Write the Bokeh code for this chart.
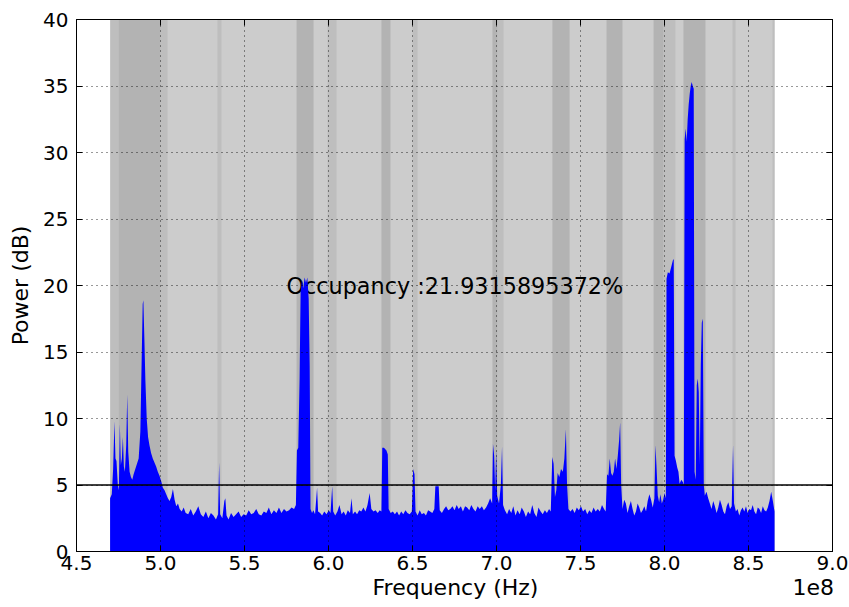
from bokeh.plotting import figure
from bokeh.models import Range1d, FixedTicker, NumeralTickFormatter, Span, LinearAxis, ColumnDataSource
from bokeh.core.properties import value
from bokeh.embed import file_html
from bokeh.resources import INLINE

FONT = "DejaVu Sans"

# ---- spectrum (frequency in MHz, power in dB) ----
freq_mhz = [
    470.0, 471.0, 471.8, 472.6, 473.2, 473.8, 474.6, 475.2, 475.8, 476.4, 477.0, 477.6, 478.2, 478.8,
    479.6, 480.2, 480.8, 481.6, 482.4, 483.2, 484.0, 485.0, 486.0, 487.0, 488.0, 488.8, 489.4, 489.8,
    490.4, 491.0, 491.8, 492.6, 493.4, 494.4, 495.4, 496.4, 497.4, 498.4, 499.4, 500.4, 501.4, 502.4,
    503.4, 504.4, 505.4, 506.4, 507.4, 508.4, 509.4, 510.4, 511.4, 512.6, 513.8, 515.0,
    516.5, 518.0, 519.5, 521.0, 522.5, 524.0, 525.5, 527.0, 528.5, 530.0, 531.5, 533.0, 534.3, 534.9,
    535.5, 536.8, 538.0, 538.6, 539.3, 540.5, 542.0, 543.5, 545.0, 546.5, 548.0, 549.5, 551.0, 552.5,
    554.0, 555.5, 557.0, 558.5, 560.0, 561.5, 563.0, 564.5, 566.0, 567.5, 569.0, 570.5, 572.0, 573.5,
    575.0, 576.5, 578.0, 579.5,
    580.6, 581.2, 582.0, 582.8, 583.4, 584.2, 585.0, 585.8, 586.6, 587.4, 588.2, 588.8, 589.3, 590.2,
    591.0, 592.0, 593.2, 593.8, 595.0,
    596.2, 597.5, 598.8, 600.2, 601.2, 602.2, 602.8, 604.0, 605.3, 606.5, 607.8, 609.0, 610.3, 611.5,
    612.8, 613.7, 614.5, 615.8, 617.0, 618.3, 619.5, 620.8, 622.0, 623.2, 624.5, 625.5, 626.8, 628.0,
    629.3, 630.5, 631.5, 632.0, 633.0, 634.5, 635.3, 635.8, 637.0, 638.3, 639.5,
    640.8, 642.0, 643.3, 644.5, 645.8, 647.0, 648.3, 649.6, 650.4, 651.2, 651.8, 653.0, 654.3, 655.5,
    656.8, 658.0, 659.3, 660.5, 661.8, 663.0, 663.6, 665.6, 666.2, 667.5, 668.8, 670.0, 671.3, 672.5,
    673.8, 675.0, 676.3, 677.5, 678.8, 680.0, 681.3, 682.5, 683.8, 685.0, 686.3, 687.5, 688.8, 690.0,
    691.3, 692.5, 693.8, 695.0, 696.2,
    697.4, 697.9, 698.6, 699.2, 699.8, 700.4, 701.5, 702.6, 703.3, 703.9,
    705.0, 706.3, 707.5, 708.8, 710.0, 711.3, 712.5, 713.8, 715.0, 716.3, 717.5, 718.8, 720.0, 721.3,
    722.5, 723.8, 725.0, 726.3, 727.5, 728.8, 730.0, 731.3, 732.3,
    733.2, 734.0, 734.8, 735.6, 736.4, 737.4, 738.4, 739.5, 740.4, 741.3, 742.0, 742.8,
    744.0, 745.3, 746.5, 747.8, 749.0, 750.3, 751.5, 752.8, 754.0, 755.3, 756.5, 757.8, 759.0, 760.3,
    761.5, 762.8, 764.0, 765.0,
    765.8, 766.6, 767.4, 768.2, 769.0, 769.8, 770.6, 771.4, 772.2, 773.0, 773.6, 774.2, 775.0,
    776.0, 777.0, 778.0, 779.0, 780.0, 781.0, 782.0, 783.0, 784.0, 785.0, 786.0, 787.0, 788.0, 789.0,
    790.0, 791.0, 792.0, 793.0, 794.0,
    794.6, 795.2, 796.0, 796.8, 797.6, 798.4, 799.2, 800.0,
    800.8, 801.2, 802.0, 803.0, 804.0, 805.0, 805.5, 806.0, 806.8, 807.6, 808.3, 809.0, 810.0, 811.0,
    811.5, 812.0, 812.6, 813.2, 813.8, 814.4, 815.0, 815.6, 816.2, 816.8, 817.4, 817.9, 818.6, 819.2,
    819.8, 820.4, 821.0, 821.6, 822.2, 822.8, 823.4, 824.0,
    825.0, 826.0, 827.0, 828.0, 829.0, 830.0, 831.0, 832.0, 833.0, 834.0, 835.0, 836.0, 837.0, 838.0,
    839.0, 840.0, 840.8, 841.4, 842.5, 843.5, 844.5, 845.5, 846.5, 847.5, 848.5, 849.5, 850.5, 851.5,
    852.5, 853.5, 854.5, 855.5, 856.5, 857.5, 858.5, 859.5, 860.5, 861.5, 862.5, 863.5, 864.5, 865.5,
]
power_db = [
    4.0, 4.3, 6.2, 9.8, 7.0, 6.8, 5.0, 4.6, 9.6, 6.5, 7.0, 8.6, 6.4, 6.0,
    8.0, 11.8, 7.5, 6.0, 5.6, 5.4, 5.8, 6.2, 6.6, 7.0, 9.0, 14.5, 18.6, 18.9,
    16.0, 12.9, 10.0, 8.6, 8.0, 7.4, 7.0, 6.7, 6.4, 6.0, 5.7, 5.3, 4.8, 4.6,
    4.3, 4.0, 3.8, 4.1, 4.7, 3.9, 3.4, 3.6, 3.2, 3.0, 3.3, 2.9,
    2.8, 3.2, 2.7, 3.0, 3.4, 2.8, 2.6, 3.0, 2.5, 2.9, 2.7, 2.4, 2.8, 6.7,
    2.8, 2.5, 3.8, 4.0, 2.7, 2.4, 2.9, 2.6, 2.8, 3.0, 2.6, 2.8, 2.7, 3.1,
    2.8, 2.9, 3.2, 2.8, 2.7, 3.0, 2.9, 3.3, 2.8, 3.1, 2.9, 3.3, 2.9, 3.2,
    3.0, 3.1, 3.3, 3.2,
    3.5, 7.6, 7.8, 13.0, 19.5, 20.4, 19.8, 20.6, 20.2, 20.6, 19.0, 14.0, 3.2, 2.9,
    3.1, 2.8, 4.8, 3.0, 2.9,
    2.7, 3.0, 2.8, 3.1, 2.9, 4.9, 3.0, 2.7, 3.0, 3.5, 2.8, 3.0, 2.7, 3.1,
    2.9, 4.0, 2.8, 3.0, 2.8, 3.1, 3.0, 3.3, 3.0, 3.5, 4.4, 3.2, 3.0, 3.1,
    2.9, 3.1, 3.0, 7.8, 7.8, 7.6, 7.3, 3.2, 2.9, 3.0, 2.8,
    3.0, 2.7, 3.0, 2.8, 3.1, 2.9, 2.8, 3.0, 6.2, 5.8, 3.0, 2.7, 3.1, 2.8,
    2.9, 2.7, 3.1, 3.0, 2.9, 3.2, 4.9, 4.9, 3.1, 2.9, 3.2, 3.4, 3.1, 3.2,
    3.4, 3.1, 3.5, 3.2, 3.4, 3.0, 3.4, 3.3, 3.1, 3.5, 3.2, 3.0, 3.4, 3.2,
    3.4, 3.1, 3.3, 3.6, 4.0,
    3.6, 8.1, 7.2, 4.6, 7.6, 4.2, 3.6, 5.0, 7.9, 3.5,
    3.1, 2.8, 3.2, 2.9, 3.4, 2.7, 3.1, 2.8, 3.3, 3.0, 2.6, 3.0, 2.8, 3.5,
    2.9, 2.6, 3.3, 3.0, 2.8, 3.1, 2.9, 3.2, 3.0,
    7.1, 6.6, 4.1, 4.6, 5.9, 5.6, 6.2, 6.0, 7.0, 9.2, 5.0, 3.2,
    3.0, 3.2, 2.9, 3.3, 3.1, 3.4, 3.0, 3.2, 2.8, 3.1, 2.9, 3.3, 3.0, 3.2,
    3.0, 3.5, 3.2, 3.0,
    5.8, 5.7, 7.0, 5.9, 5.7, 6.0, 7.0, 6.2, 7.2, 8.4, 9.7, 5.0, 3.2,
    3.9, 3.6, 2.9, 3.4, 3.8, 3.2, 2.7, 3.0, 3.6, 3.3, 2.9, 3.1, 3.4, 3.0,
    3.8, 4.3, 3.9, 3.3, 4.0,
    8.0, 6.5, 4.2, 3.7, 4.3, 3.6, 3.9, 4.4,
    4.0, 20.5, 21.0, 20.9, 21.4, 21.9, 22.0, 7.2, 6.8, 6.3, 6.0, 5.1, 5.4, 5.2,
    5.0, 31.0, 31.8, 30.8, 32.5, 33.6, 34.4, 35.0, 35.3, 35.0, 34.8, 6.0, 5.4, 12.5,
    13.0, 12.0, 6.5, 14.0, 17.2, 17.5, 5.0, 4.2,
    4.5, 4.0, 3.6, 3.2, 3.8, 3.4, 2.9, 3.3, 3.9, 3.5, 3.0, 2.8, 3.4, 3.7,
    3.2, 3.4, 8.0, 3.6, 3.0, 3.2, 2.7, 3.1, 3.3, 3.0, 3.4, 2.9, 3.2, 3.1,
    3.5, 3.0, 2.8, 3.3, 3.2, 2.9, 3.4, 3.1, 3.0, 3.3, 3.8, 4.5, 3.8, 3.0,
]

# ---- scanned range and occupied bands (MHz) ----
scan_start_mhz = 470.0
scan_stop_mhz = 865.5
dark_left = [475.0, 581.0, 631.5, 697.6, 733.3, 765.5, 793.5, 811.3]
dark_right = [500.0, 591.1, 636.9, 700.6, 743.5, 775.0, 799.4, 824.4]
mid_left = [470.2, 500.0, 533.9, 599.4, 650.0, 700.6, 799.4, 840.5, 864.3]
mid_right = [475.0, 504.2, 536.3, 604.8, 653.0, 704.2, 806.5, 842.3, 865.5]

threshold_db = 5
occupancy_text = "Occupancy :21.9315895372%"
x_ticks = [4.5, 5.0, 5.5, 6.0, 6.5, 7.0, 7.5, 8.0, 8.5, 9.0]
y_ticks = [0, 5, 10, 15, 20, 25, 30, 35, 40]
x_label = "Frequency (Hz)"
x_label_pos = 6.756
x_offset_text = "1e8"
x_offset_pos = 8.885

to_e8 = lambda v: v / 100.0

p = figure(width=849, height=607, output_backend="svg", toolbar_location=None,
           x_range=Range1d(4.5, 9.0), y_range=Range1d(0, 40),
           min_border_left=76, min_border_right=17, min_border_top=19, min_border_bottom=56,
           background_fill_color="white", border_fill_color="white")
p.outline_line_color = "black"
p.outline_line_width = 1

# scanned background
p.quad(left=[to_e8(scan_start_mhz)], right=[to_e8(scan_stop_mhz)], bottom=[0], top=[40],
       fill_color="#cccccc", line_color=None)
p.quad(left=[to_e8(v) for v in mid_left], right=[to_e8(v) for v in mid_right], bottom=0, top=40,
       fill_color="#bebebe", line_color=None)
p.quad(left=[to_e8(v) for v in dark_left], right=[to_e8(v) for v in dark_right], bottom=0, top=40,
       fill_color="#b3b3b3", line_color=None)

p.text(x=[5.75], y=[20], text=[occupancy_text], text_font=value(FONT), text_font_size="22.3px",
       text_baseline="alphabetic", text_align="left", text_color="black")

src = ColumnDataSource(dict(x=[to_e8(v) for v in freq_mhz], y=power_db))
p.varea(x="x", y1=0, y2="y", source=src, fill_color="#0000ff")

p.add_layout(Span(location=threshold_db, dimension="width", line_color="black", line_width=1.5))

# axes
for ax in (p.xaxis[0], p.yaxis[0]):
    ax.major_tick_in = 6
    ax.major_tick_out = 0
    ax.minor_tick_line_color = None
    ax.axis_line_color = "black"
    ax.major_tick_line_color = "black"
    ax.major_label_text_font = FONT
    ax.major_label_text_font_size = "20px"
    ax.major_label_text_color = "black"
    ax.axis_label_text_font = FONT
    ax.axis_label_text_font_size = "22px"
    ax.axis_label_text_font_style = "normal"
    ax.axis_label_text_color = "black"

p.xaxis.ticker = FixedTicker(ticks=x_ticks)
p.xaxis.formatter = NumeralTickFormatter(format="0.0")
p.xaxis.major_label_standoff = 4
p.yaxis.ticker = FixedTicker(ticks=y_ticks)
p.yaxis.axis_label = "Power (dB)"
p.yaxis.major_label_standoff = 8
p.yaxis.axis_label_standoff = 7

# second row below the x axis: axis title and the 1e8 offset text
label_axis = LinearAxis(ticker=FixedTicker(ticks=[x_label_pos, x_offset_pos]),
                        major_label_overrides={x_label_pos: x_label, x_offset_pos: x_offset_text},
                        major_label_text_font=FONT, major_label_text_font_size="22px",
                        major_label_text_color="black", major_label_standoff=2,
                        major_tick_in=0, major_tick_out=0, minor_tick_line_color=None,
                        axis_line_color=None, major_tick_line_color=None)
p.add_layout(label_axis, "below")

# tick marks on the top and right frame edges (labels hidden)
for loc, ticks in (("above", x_ticks), ("right", y_ticks)):
    ax = LinearAxis(ticker=FixedTicker(ticks=ticks), major_label_text_font_size="10px",
                    major_label_text_color=None, major_label_text_alpha=0,
                    major_tick_in=6, major_tick_out=0, minor_tick_line_color=None,
                    axis_line_color="black", major_tick_line_color="black",
                    major_label_standoff=0)
    p.add_layout(ax, loc)

for g in (p.xgrid[0], p.ygrid[0]):
    g.grid_line_color = "black"
    g.grid_line_dash = "1 4"
    g.grid_line_width = 1
    g.grid_line_alpha = 0.8
    g.level = "guide"
p.xgrid.ticker = FixedTicker(ticks=x_ticks)
p.ygrid.ticker = FixedTicker(ticks=y_ticks)

open("out.html", "w").write(file_html(p, INLINE))
